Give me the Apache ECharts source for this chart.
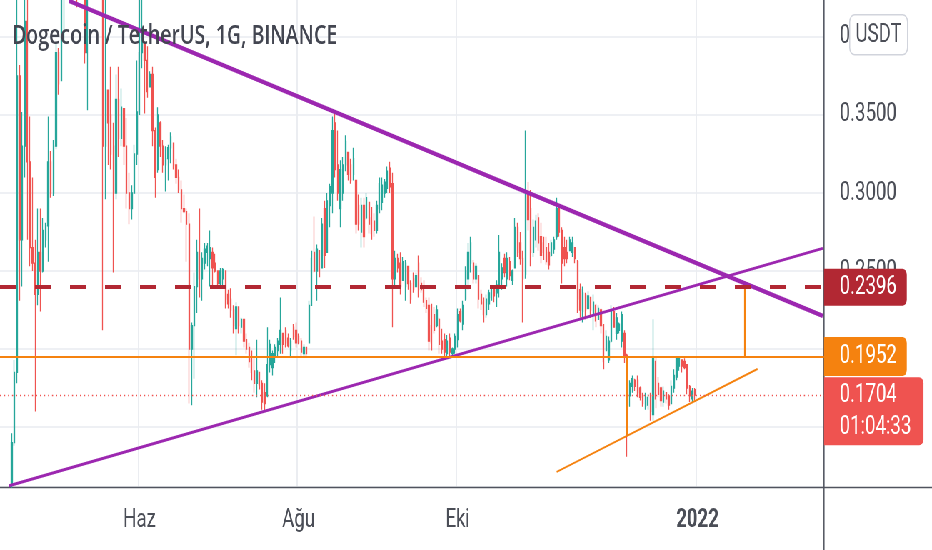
<!DOCTYPE html>
<html>
<head>
<meta charset="utf-8">
<script src="https://cdn.jsdelivr.net/npm/echarts@6.0.0/dist/echarts.min.js"></script>
<style>
html,body{margin:0;padding:0;overflow:hidden;background:#fff;width:932px;height:550px}
#chart{width:1305px;height:550px;transform:scaleX(0.714176);transform-origin:0 0}
</style>
</head>
<body>
<div id="chart"></div>
<script>
// ---------- data ----------
const titleText = 'Dogecoin / TetherUS, 1G, BINANCE';
const currencyText = 'USDT';
const firstDay = '2021-04-09';
const dayCount = 316;
const tickLabels = [['2021-06-01', 'Haz'], ['2021-08-01', 'Ağu'], ['2021-10-01', 'Eki'], ['2022-01-01', '2022']];
const priceMin = 0.11154, priceMax = 0.42564;

// daily candles [open, close, low, high]
const aprStart = '2021-04-13';
const aprCandles = [
 [0.113,0.140,0.111,0.146],[0.140,0.185,0.138,0.193],[0.185,0.375,0.178,0.450],[0.375,0.270,0.231,0.382],
 [0.270,0.330,0.240,0.352],[0.330,0.410,0.310,0.440],[0.410,0.320,0.270,0.430],[0.320,0.265,0.253,0.349],
 [0.265,0.255,0.250,0.310],[0.255,0.235,0.160,0.270],[0.235,0.262,0.228,0.290],[0.262,0.250,0.224,0.290],
 [0.250,0.276,0.249,0.284],[0.270,0.279,0.265,0.281],[0.279,0.320,0.256,0.349],[0.320,0.300,0.297,0.327],
 [0.300,0.330,0.298,0.334],[0.330,0.390,0.328,0.396]
];
const mayStart = '2021-05-01';
const mayCandles = [
 [0.390,0.370,0.363,0.393],[0.372,0.430,0.372,0.450],[0.430,0.530,0.397,0.560],[0.530,0.580,0.500,0.620],
 [0.580,0.570,0.520,0.690],[0.570,0.680,0.550,0.700],[0.680,0.560,0.520,0.740],[0.560,0.490,0.419,0.600],
 [0.490,0.500,0.450,0.520],[0.500,0.490,0.440,0.530],[0.490,0.390,0.383,0.500],[0.390,0.500,0.353,0.520],
 [0.500,0.530,0.470,0.570],[0.530,0.490,0.460,0.560],[0.490,0.510,0.440,0.530],[0.510,0.470,0.450,0.530],
 [0.470,0.480,0.450,0.500],[0.480,0.330,0.212,0.490],[0.330,0.366,0.296,0.440],[0.366,0.345,0.318,0.366],
 [0.350,0.325,0.315,0.381],[0.330,0.300,0.249,0.345],[0.300,0.360,0.296,0.376],[0.360,0.335,0.323,0.381],
 [0.335,0.355,0.330,0.367],[0.354,0.330,0.318,0.354],[0.330,0.300,0.290,0.348],[0.300,0.290,0.280,0.313],
 [0.290,0.300,0.283,0.305],[0.300,0.325,0.300,0.331],[0.325,0.352,0.318,0.385]
];
const junStart = '2021-06-01';
const junCandles = [
 [0.352,0.390,0.350,0.440],[0.390,0.397,0.380,0.440],[0.396,0.385,0.351,0.397],[0.385,0.365,0.361,0.394],
 [0.368,0.376,0.368,0.378],[0.376,0.340,0.330,0.381],[0.340,0.310,0.297,0.342],[0.315,0.350,0.313,0.355],
 [0.345,0.330,0.323,0.346],[0.330,0.318,0.313,0.334],[0.318,0.322,0.301,0.330],[0.322,0.329,0.308,0.331],
 [0.329,0.336,0.319,0.339],[0.332,0.318,0.315,0.332],[0.318,0.310,0.306,0.322],[0.310,0.302,0.300,0.315],
 [0.302,0.290,0.281,0.308],[0.290,0.288,0.287,0.299],[0.288,0.280,0.256,0.290],[0.280,0.200,0.165,0.287],
 [0.200,0.215,0.164,0.217],[0.215,0.240,0.181,0.249],[0.240,0.262,0.223,0.270],[0.262,0.245,0.233,0.290],
 [0.245,0.258,0.231,0.262],[0.255,0.264,0.251,0.268],[0.262,0.266,0.253,0.268],[0.258,0.265,0.240,0.276],
 [0.262,0.252,0.240,0.265],[0.255,0.250,0.249,0.261]
];
const julStart = '2021-07-01';
const julCandles = [
 [0.250,0.242,0.239,0.250],[0.242,0.250,0.240,0.252],[0.245,0.251,0.241,0.252],[0.250,0.232,0.226,0.250],
 [0.235,0.229,0.226,0.238],[0.232,0.225,0.220,0.239],[0.225,0.215,0.210,0.228],[0.213,0.227,0.196,0.230],
 [0.227,0.215,0.210,0.227],[0.214,0.219,0.210,0.220],[0.219,0.205,0.201,0.219],[0.206,0.200,0.197,0.210],
 [0.201,0.192,0.188,0.204],[0.194,0.185,0.180,0.199],[0.186,0.178,0.172,0.195],[0.178,0.186,0.169,0.206],
 [0.185,0.177,0.174,0.185],[0.178,0.166,0.161,0.180],[0.172,0.165,0.160,0.178],[0.170,0.190,0.169,0.214],
 [0.190,0.203,0.185,0.206],[0.188,0.197,0.183,0.199],[0.195,0.201,0.191,0.203],[0.199,0.205,0.195,0.207],
 [0.203,0.212,0.197,0.233],[0.210,0.203,0.197,0.210],[0.212,0.204,0.201,0.214],[0.207,0.202,0.201,0.210],
 [0.199,0.205,0.195,0.207],[0.214,0.208,0.206,0.216],[0.212,0.204,0.201,0.217]
];
const augStart = '2021-08-01';
const augCandles = [
 [0.208,0.204,0.203,0.210],[0.205,0.198,0.195,0.207],[0.197,0.201,0.195,0.203],[0.201,0.197,0.195,0.201],
 [0.204,0.228,0.204,0.231],[0.228,0.258,0.228,0.263],[0.262,0.250,0.249,0.285],[0.250,0.264,0.231,0.267],
 [0.263,0.250,0.246,0.263],[0.252,0.280,0.252,0.284],[0.290,0.260,0.252,0.295],[0.262,0.295,0.262,0.300],
 [0.292,0.304,0.278,0.306],[0.300,0.340,0.287,0.349],[0.345,0.315,0.310,0.352],[0.318,0.300,0.295,0.340],
 [0.290,0.315,0.278,0.321],[0.300,0.318,0.295,0.323],[0.318,0.333,0.314,0.337],[0.326,0.312,0.308,0.326],
 [0.318,0.308,0.306,0.322],[0.312,0.322,0.308,0.329],[0.308,0.280,0.274,0.308],[0.292,0.280,0.276,0.299],
 [0.275,0.292,0.265,0.297],[0.292,0.272,0.265,0.297],[0.284,0.297,0.283,0.300],[0.294,0.280,0.274,0.294],
 [0.284,0.274,0.270,0.291],[0.282,0.276,0.272,0.287],[0.276,0.292,0.274,0.295]
];
const sepStart = '2021-09-01';
const sepCandles = [
 [0.290,0.306,0.287,0.310],[0.294,0.305,0.289,0.310],[0.300,0.307,0.297,0.309],[0.303,0.314,0.300,0.317],
 [0.316,0.304,0.300,0.320],[0.306,0.245,0.214,0.313],[0.245,0.258,0.240,0.263],[0.258,0.252,0.249,0.261],
 [0.255,0.240,0.235,0.262],[0.244,0.256,0.244,0.259],[0.240,0.255,0.231,0.257],[0.253,0.242,0.238,0.253],
 [0.242,0.232,0.229,0.244],[0.245,0.238,0.236,0.249],[0.240,0.247,0.240,0.249],[0.255,0.238,0.233,0.260],
 [0.242,0.238,0.236,0.246],[0.240,0.230,0.227,0.244],[0.231,0.226,0.223,0.233],[0.228,0.205,0.199,0.233],
 [0.215,0.204,0.199,0.229],[0.222,0.212,0.210,0.227],[0.215,0.225,0.214,0.228],[0.219,0.203,0.197,0.220],
 [0.205,0.200,0.197,0.213],[0.206,0.198,0.195,0.210],[0.197,0.205,0.195,0.209],[0.207,0.198,0.195,0.210],
 [0.197,0.200,0.196,0.201],[0.200,0.208,0.197,0.210]
];
const octStart = '2021-10-01';
const octCandles = [
 [0.206,0.222,0.201,0.226],[0.224,0.218,0.217,0.226],[0.216,0.228,0.212,0.231],[0.232,0.250,0.231,0.253],
 [0.245,0.262,0.238,0.268],[0.255,0.268,0.249,0.272],[0.255,0.245,0.242,0.257],[0.245,0.253,0.242,0.255],
 [0.247,0.232,0.226,0.247],[0.235,0.229,0.225,0.238],[0.230,0.222,0.217,0.233],[0.222,0.232,0.220,0.235],
 [0.229,0.236,0.225,0.238],[0.233,0.239,0.231,0.241],[0.240,0.234,0.230,0.241],[0.236,0.241,0.227,0.244],
 [0.240,0.262,0.233,0.273],[0.245,0.252,0.238,0.255],[0.258,0.249,0.246,0.261],[0.245,0.258,0.240,0.262],
 [0.256,0.247,0.244,0.259],[0.244,0.250,0.241,0.251],[0.252,0.278,0.252,0.284],[0.278,0.262,0.259,0.281],
 [0.268,0.258,0.254,0.275],[0.258,0.245,0.217,0.263],[0.248,0.300,0.245,0.340],[0.300,0.283,0.276,0.307],
 [0.290,0.262,0.253,0.302],[0.262,0.278,0.259,0.283],[0.270,0.282,0.265,0.286]
];
const novStart = '2021-11-01';
const novCandles = [
 [0.284,0.268,0.263,0.287],[0.272,0.260,0.255,0.281],[0.268,0.262,0.257,0.272],[0.265,0.256,0.254,0.272],
 [0.262,0.254,0.251,0.268],[0.260,0.268,0.259,0.270],[0.264,0.270,0.261,0.272],[0.272,0.290,0.270,0.297],
 [0.290,0.275,0.272,0.291],[0.276,0.255,0.242,0.278],[0.265,0.258,0.253,0.272],[0.262,0.258,0.255,0.270],
 [0.263,0.270,0.263,0.272],[0.262,0.268,0.259,0.272],[0.265,0.258,0.255,0.265],[0.256,0.232,0.223,0.257],
 [0.238,0.225,0.220,0.242],[0.224,0.236,0.217,0.240],[0.235,0.225,0.219,0.236],[0.226,0.234,0.225,0.237],
 [0.233,0.225,0.220,0.233],[0.222,0.230,0.212,0.235],[0.228,0.218,0.214,0.229],[0.219,0.226,0.219,0.228],
 [0.225,0.215,0.210,0.226],[0.215,0.192,0.187,0.216],[0.199,0.208,0.199,0.212],[0.193,0.205,0.191,0.208],
 [0.205,0.225,0.204,0.228],[0.224,0.214,0.214,0.227]
];
const decStart = '2021-12-01';
const decCandles = [
 [0.210,0.220,0.206,0.223],[0.212,0.216,0.210,0.217],[0.205,0.222,0.201,0.224],[0.210,0.196,0.191,0.212],
 [0.196,0.170,0.131,0.197],[0.170,0.178,0.163,0.180],[0.176,0.181,0.172,0.183],[0.180,0.176,0.173,0.181],
 [0.180,0.172,0.169,0.183],[0.175,0.169,0.167,0.176],[0.170,0.165,0.163,0.172],[0.163,0.169,0.161,0.172],
 [0.164,0.169,0.161,0.171],[0.170,0.160,0.154,0.172],[0.158,0.195,0.154,0.219],[0.192,0.168,0.162,0.195],
 [0.178,0.171,0.169,0.182],[0.175,0.167,0.163,0.176],[0.166,0.173,0.163,0.176],[0.172,0.168,0.165,0.172],
 [0.170,0.164,0.161,0.171],[0.165,0.176,0.165,0.180],[0.175,0.183,0.172,0.187],[0.182,0.194,0.180,0.195],
 [0.189,0.194,0.186,0.195],[0.193,0.189,0.185,0.193],[0.192,0.188,0.187,0.194],[0.190,0.175,0.171,0.190],
 [0.176,0.170,0.166,0.177],[0.168,0.173,0.166,0.175],[0.174,0.1704,0.167,0.175]
];

// price levels and drawings
const resistanceLevel = 0.2396;
const supportLevel = 0.1952;
const lastPrice = 0.1704;
const countdownText = '01:04:33';
const purpleDownLine = [['2021-05-05', 0.4231], ['2022-02-18', 0.2212]];
const purpleUpLine = [['2021-04-12', 0.1124], ['2022-02-18', 0.2645]];
const orangeUpLine = [['2021-11-08', 0.1212], ['2022-01-24', 0.1872]];
const orangeRangeTop = [['2022-01-19', 0.2396], ['2022-01-19', 0.1952]];
const orangeRangeLow = [['2021-12-05', 0.1952], ['2021-12-05', 0.1449]];

// ---------- build ----------
const W = 1305, H = 550;
const gridRight = 151.2, gridTop = -3, gridBottom = 63;
const UP = '#26a69a', DOWN = '#ef5350', PURPLE = '#9c27b0', ORANGE = '#f5820f', DARKRED = '#b22833';
const TXT = '#4b4e57', GRIDC = '#e9ebf0';

function addDays(iso, n) {
  const d = new Date(iso + 'T00:00:00Z');
  d.setUTCDate(d.getUTCDate() + n);
  return d.toISOString().slice(0, 10);
}
const dates = [];
for (let i = 0; i < dayCount; i++) dates.push(addDays(firstDay, i));
const months = [[aprStart, aprCandles], [mayStart, mayCandles], [junStart, junCandles], [julStart, julCandles],
  [augStart, augCandles], [sepStart, sepCandles], [octStart, octCandles], [novStart, novCandles], [decStart, decCandles]];
const candleData = [];
months.forEach(([start, arr]) => arr.forEach((c, j) => candleData.push([addDays(start, j), c[0], c[1], c[2], c[3]])));
const tickMap = Object.fromEntries(tickLabels);
const isTick = (idx, val) => Object.prototype.hasOwnProperty.call(tickMap, val);

const tagLabel = (text, bg, extra) => Object.assign({
  show: true, position: 'end', distance: 0, formatter: text, color: '#ffffff', backgroundColor: bg,
  fontFamily: 'Roboto', fontSize: 26, lineHeight: 27, padding: [6, 14, 6, 22], borderRadius: [0, 6, 6, 0]
}, extra || {});
const seg = (pts, color, width) => [
  { coord: pts[0], lineStyle: { color: color, width: width, type: 'solid' }, label: { show: false } },
  { coord: pts[1] }
];

const option = {
  animation: false,
  backgroundColor: '#ffffff',
  title: {
    text: titleText, left: 16.8, top: 19, padding: 0,
    textStyle: { fontFamily: 'Open Sans', fontWeight: 600, fontSize: 27.4, lineHeight: 34, color: '#434651' }
  },
  grid: { left: 0, right: gridRight, top: gridTop, bottom: gridBottom, containLabel: false, outerBoundsMode: 'none' },
  xAxis: {
    type: 'category', data: dates, boundaryGap: true,
    axisLine: { show: false }, axisTick: { show: false },
    axisLabel: {
      interval: isTick, margin: 20, fontFamily: 'Roboto', fontSize: 26, lineHeight: 26, color: TXT,
      formatter: v => (tickMap[v] === '2022' ? '{b|2022}' : (tickMap[v] || '')),
      rich: { b: { fontFamily: 'Roboto', fontWeight: 'bold', fontSize: 26, lineHeight: 26, color: TXT } }
    },
    splitLine: { show: true, interval: isTick, lineStyle: { color: GRIDC, width: 1.8 } }
  },
  yAxis: {
    type: 'value', position: 'right', min: priceMin, max: priceMax, scale: true,
    splitNumber: 6, minInterval: 0.05, maxInterval: 0.05,
    axisLine: { show: false }, axisTick: { show: false },
    axisLabel: {
      margin: 22, fontFamily: 'Roboto', fontSize: 26, color: TXT, showMinLabel: false, showMaxLabel: false,
      padding: [4, 0, 0, 0],
      formatter: v => v.toFixed(4)
    },
    splitLine: { show: true, lineStyle: { color: GRIDC, width: 1.5 } }
  },
  series: [{
    type: 'candlestick',
    data: candleData,
    encode: { x: 0, y: [1, 2, 3, 4] },
    barWidth: 1.8,
    clip: true,
    itemStyle: { color: UP, color0: DOWN, borderColor: UP, borderColor0: DOWN, borderWidth: 1.3 },
    emphasis: { disabled: true },
    markLine: {
      silent: true, animation: false, symbol: ['none', 'none'], precision: 6,
      label: { show: false },
      emphasis: { disabled: true },
      data: [
        seg(purpleUpLine, PURPLE, 3),
        seg(purpleDownLine, PURPLE, 4.5),
        seg(orangeUpLine, ORANGE, 2),
        seg(orangeRangeTop, ORANGE, 2.2),
        seg(orangeRangeLow, ORANGE, 2.2),
        { yAxis: resistanceLevel, lineStyle: { color: DARKRED, width: 4, type: [22.4, 26.6] },
          label: tagLabel(resistanceLevel.toFixed(4), DARKRED, { padding: [5, 14, 5, 22] }) },
        { yAxis: supportLevel, lineStyle: { color: ORANGE, width: 2, type: 'solid' },
          label: tagLabel(supportLevel.toFixed(4), ORANGE) },
        { yAxis: lastPrice, lineStyle: { color: DOWN, width: 1.4, type: [1.6, 4.0] },
          label: tagLabel(lastPrice.toFixed(4) + '\n' + countdownText, DOWN,
            { lineHeight: 32, padding: [2, 17, 2, 22], offset: [0, 16] }) }
      ]
    }
  }],
  graphic: [
    { type: 'line', z: 1, silent: true, shape: { x1: W - gridRight, y1: 0, x2: W - gridRight, y2: H },
      style: { stroke: '#50535e', lineWidth: 1.5 } },
    { type: 'line', z: 1, silent: true, shape: { x1: 0, y1: H - gridBottom + 0.5, x2: W, y2: H - gridBottom + 0.5 },
      style: { stroke: '#50535e', lineWidth: 1.6 } },
    { type: 'group', zlevel: 1, z: 100, left: 1189, top: 14, children: [
      { type: 'rect', zlevel: 1, z: 100, shape: { x: 0, y: 0, width: 81, height: 40, r: 7 },
        style: { fill: '#ffffff', stroke: '#d1d4dc', lineWidth: 1.5 } },
      { type: 'text', zlevel: 1, z: 101, style: { x: 40.5, y: 21, text: currencyText, align: 'center', verticalAlign: 'middle',
        font: '26px Roboto', fill: TXT } }
    ] }
  ]
};

const chart = echarts.init(document.getElementById('chart'), null, { renderer: 'canvas', width: W, height: H });
chart.setOption(option);
</script>
</body>
</html>
